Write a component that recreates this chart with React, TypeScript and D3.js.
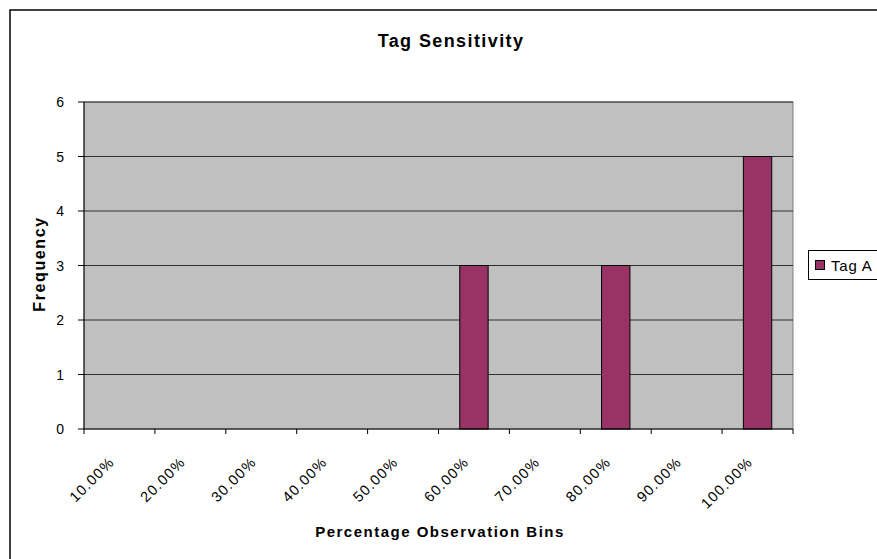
import React from 'react';
import * as d3 from 'd3';

const categories = ['10.00%', '20.00%', '30.00%', '40.00%', '50.00%', '60.00%', '70.00%', '80.00%', '90.00%', '100.00%'];
const tagA = [0, 0, 0, 0, 0, 3, 0, 3, 0, 5];
const yTicks = [0, 1, 2, 3, 4, 5, 6];

const W = 877;
const H = 559;
const plot = { left: 84, top: 102, right: 793, bottom: 429 };
const font = '"Liberation Sans", Arial, sans-serif';

const App: React.FC = () => {
  const x = d3.scaleBand<string>()
    .domain(categories)
    .range([plot.left, plot.right])
    .paddingInner(0.6)
    .paddingOuter(0.3);

  const band = d3.scaleBand<string>()
    .domain(categories)
    .range([plot.left, plot.right]);

  const y = d3.scaleLinear()
    .domain([0, 6])
    .range([plot.bottom, plot.top]);

  const boundaries = d3.range(categories.length + 1).map(i => plot.left + i * band.step());

  return (
    <svg width={W} height={H} style={{ display: 'block', position: 'absolute', left: 0, top: 0 }}>
      <rect x={0} y={0} width={W} height={H} fill="#fff" />
      {/* outer chart frame */}
      <rect x={10} y={10} width={W + 20} height={H + 20} fill="none" stroke="#000" strokeWidth={1.5} />

      <text x={451} y={47} textAnchor="middle" fontFamily={font} fontWeight="bold" fontSize={18} letterSpacing={1.4}>
        Tag Sensitivity
      </text>

      <rect x={plot.left} y={plot.top} width={plot.right - plot.left} height={plot.bottom - plot.top}
        fill="#c0c0c0" stroke="#808080" strokeWidth={1} />

      {yTicks.filter(t => t > 0).map(t => (
        <line key={t} x1={plot.left} x2={plot.right} y1={y(t)} y2={y(t)} stroke="#000" strokeWidth={1} opacity={0.75} />
      ))}

      {categories.map((c, i) => tagA[i] > 0 && (
        <rect key={c} x={x(c)} y={y(tagA[i])} width={x.bandwidth()} height={y(0) - y(tagA[i])}
          fill="#993366" stroke="#000" strokeWidth={1} />
      ))}

      {/* axes */}
      <line x1={plot.left} x2={plot.left} y1={plot.top} y2={plot.bottom} stroke="#000" />
      <line x1={plot.left} x2={plot.right} y1={plot.bottom} y2={plot.bottom} stroke="#000" />

      {yTicks.map(t => (
        <g key={t}>
          <line x1={plot.left - 6} x2={plot.left} y1={y(t)} y2={y(t)} stroke="#000" />
          <text x={plot.left - 20} y={y(t)} dy="0.36em" textAnchor="end" fontFamily={font} fontSize={14}>{t}</text>
        </g>
      ))}

      {boundaries.map((b, i) => (
        <line key={i} x1={b} x2={b} y1={plot.bottom} y2={plot.bottom + 5} stroke="#000" />
      ))}

      {categories.map(c => {
        const cx = (band(c) ?? 0) + band.bandwidth() / 2 - 5;
        const cy = 464;
        return (
          <text key={c} transform={`translate(${cx},${cy}) rotate(-45)`} textAnchor="end" dx={1.2}
            fontFamily={font} fontSize={14.5} letterSpacing={1.2}>{c}</text>
        );
      })}

      <text x={440} y={537} textAnchor="middle" fontFamily={font} fontWeight="bold" fontSize={15} letterSpacing={1.5}>
        Percentage Observation Bins
      </text>
      <text transform={`translate(45,264) rotate(-90)`} textAnchor="middle"
        fontFamily={font} fontWeight="bold" fontSize={16} letterSpacing={1.6}>
        Frequency
      </text>

      {/* legend */}
      <rect x={808.5} y={250.5} width={80} height={29} fill="#fff" stroke="#000" strokeWidth={1} />
      <rect x={815.5} y={260.5} width={9} height={9} fill="#993366" stroke="#000" strokeWidth={1} />
      <text x={831} y={271} fontFamily={font} fontSize={15} letterSpacing={0.8}>Tag A</text>
    </svg>
  );
};

export default App;
